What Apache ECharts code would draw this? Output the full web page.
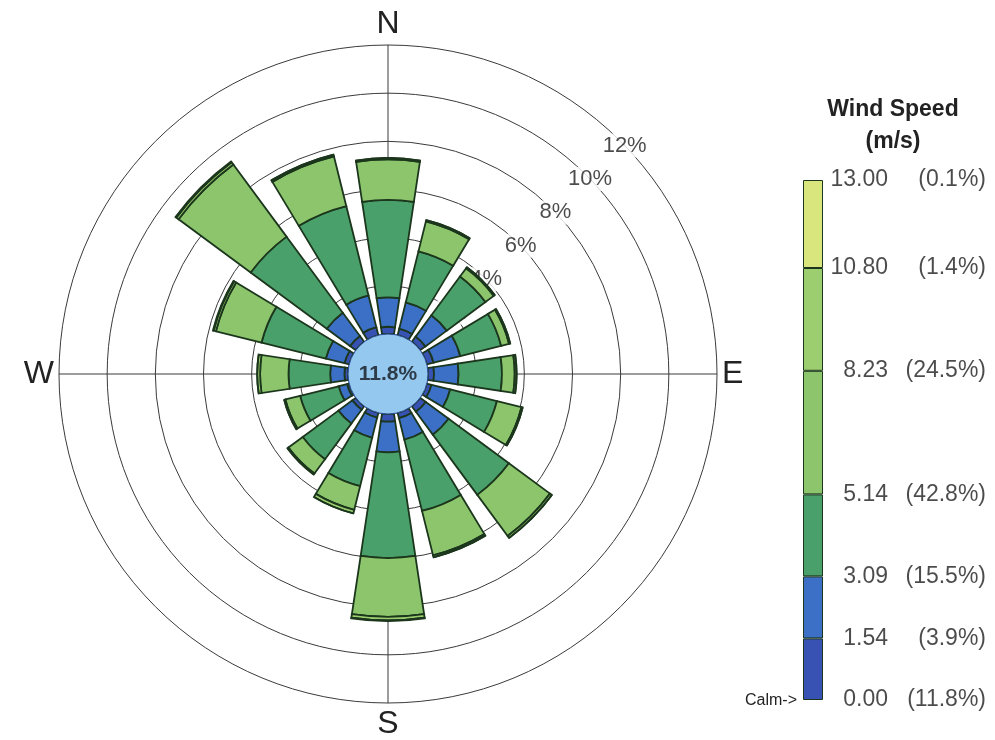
<!DOCTYPE html>
<html>
<head>
<meta charset="utf-8">
<title>Wind Rose</title>
<script src="https://cdn.jsdelivr.net/npm/echarts@6/dist/echarts.min.js"></script>
<style>
  html, body { margin: 0; padding: 0; background: #fff; }
  #chart { width: 995px; height: 740px; }
</style>
</head>
<body>
<div id="chart"></div>
<script>
// 16 wind directions, clockwise from north
const directions = ['N', 'NNE', 'NE', 'ENE', 'E', 'ESE', 'SE', 'SSE', 'S', 'SSW', 'SW', 'WSW', 'W', 'WNW', 'NW', 'NNW'];

// frequency (%) of each speed class per direction
const speed0to154   = [0.30, 0.28, 0.27, 0.29, 0.25, 0.20, 0.29, 0.23, 0.32, 0.21, 0.18, 0.09, 0.15, 0.20, 0.30, 0.34];
const speed154to309 = [1.22, 1.12, 1.10, 1.14, 1.02, 0.80, 1.18, 0.92, 1.27, 0.86, 0.72, 0.36, 0.59, 0.80, 1.20, 1.36];
const speed309to514 = [4.05, 2.19, 2.00, 1.75, 1.80, 2.00, 3.11, 3.05, 4.39, 2.07, 1.84, 1.65, 1.73, 2.75, 3.93, 3.82];
const speed514to823 = [1.68, 1.28, 0.43, 0.34, 0.53, 1.05, 2.12, 1.90, 2.44, 1.01, 0.74, 0.63, 1.18, 1.95, 3.72, 2.13];
const speed823to1080 = [0.05, 0.05, 0.05, 0.05, 0.08, 0.05, 0.10, 0.08, 0.15, 0.15, 0.05, 0.05, 0.12, 0.10, 0.12, 0.08];
const speed1080to1300 = [0, 0, 0, 0, 0, 0, 0, 0, 0.03, 0, 0, 0, 0, 0.03, 0.04, 0];

const calmPct = 11.8;

// legend class limits (m/s) and share of each class
const speedBounds = [0.00, 1.54, 3.09, 5.14, 8.23, 10.80, 13.00];
const boundShares = ['11.8%', '3.9%', '15.5%', '42.8%', '24.5%', '1.4%', '0.1%'];

const ringTicks = [2, 4, 6, 8, 10, 12];
const compassAngles = [0, 90, 180, 270];
const compassNames = ['N', 'E', 'S', 'W'];

const binColors = ['#3852b3', '#3b70c6', '#4aa06a', '#8cc56c', '#9ccd6e', '#d9e67d'];
const roseData = [speed0to154, speed154to309, speed309to514, speed514to823, speed823to1080, speed1080to1300];

const center = [388, 374];
const edge = '#1b361c';
const font = "'Liberation Sans', Arial, sans-serif";

const chart = echarts.init(document.getElementById('chart'));

const roseSeries = roseData.map((arr, i) => ({
  type: 'bar',
  coordinateSystem: 'polar',
  polarIndex: 0,
  stack: 'rose',
  barCategoryGap: '24%',
  data: arr,
  z: 3,
  silent: true,
  itemStyle: {color: binColors[i], borderColor: edge, borderWidth: 1.8}
}));

const legendSeries = roseData.map((arr, i) => ({
  type: 'bar',
  xAxisIndex: 0,
  yAxisIndex: 0,
  stack: 'legend',
  barWidth: '100%',
  data: [+(speedBounds[i + 1] - speedBounds[i]).toFixed(2)],
  silent: true,
  itemStyle: {color: binColors[i], borderColor: edge, borderWidth: 1}
}));

chart.setOption({
  animation: false,
  title: {
    text: 'Wind Speed\n(m/s)',
    left: 888,
    top: 89,
    textAlign: 'center',
    textStyle: {fontFamily: font, fontSize: 23, fontWeight: 'bold', color: '#222', lineHeight: 32}
  },
  polar: [
    {center: center, radius: [40, 329]},
    {center: center, radius: [40, 329]}
  ],
  angleAxis: [
    {
      polarIndex: 0,
      type: 'category',
      data: directions,
      startAngle: 101.25,
      boundaryGap: true,
      axisLine: {show: false},
      axisTick: {show: false},
      axisLabel: {show: false},
      splitLine: {show: false}
    },
    {
      polarIndex: 1,
      type: 'value',
      min: 0,
      max: 360,
      interval: 90,
      startAngle: 90,
      axisLine: {show: false},
      axisTick: {show: false},
      axisLabel: {
        margin: 5,
        fontFamily: "'Liberation Sans Narrow', 'Liberation Sans', sans-serif",
        fontSize: 32,
        color: '#222',
        formatter: v => {
          const k = compassAngles.indexOf(v);
          return k >= 0 ? compassNames[k] : '';
        }
      },
      splitLine: {show: true, lineStyle: {color: '#3a3a3a', width: 1}}
    }
  ],
  radiusAxis: [
    {
      polarIndex: 0,
      type: 'value',
      min: 0,
      max: 12,
      interval: 2,
      axisLine: {show: false},
      axisTick: {show: false},
      axisLabel: {show: false},
      splitLine: {show: true, lineStyle: {color: '#3a3a3a', width: 1}}
    },
    {
      polarIndex: 1,
      type: 'value',
      min: 0,
      max: 12,
      interval: 2,
      axisLine: {show: false},
      axisTick: {show: false},
      axisLabel: {show: false},
      splitLine: {show: false}
    }
  ],
  grid: {left: 803, top: 180, width: 20, height: 520},
  xAxis: {type: 'category', data: [''], show: false},
  yAxis: {type: 'value', min: 0, max: 13, show: false},
  graphic: [{
    type: 'text',
    x: 797,
    y: 701,
    style: {text: 'Calm->', font: '16px ' + font, fill: '#222', textAlign: 'right', textVerticalAlign: 'middle'}
  }],
  series: [
    {
      type: 'scatter',
      coordinateSystem: 'polar',
      polarIndex: 1,
      data: ringTicks.map(t => [t, 46]),
      symbolSize: 0,
      z: 1,
      silent: true,
      label: {
        show: true,
        position: 'inside',
        formatter: p => p.value[0] + '%',
        fontFamily: font,
        fontSize: 22,
        color: '#1e1e1e',
        backgroundColor: '#fff',
        padding: [1, 2]
      }
    },
    ...roseSeries,
    {
      type: 'pie',
      center: center,
      radius: [0, 40],
      z: 6,
      silent: true,
      data: [{name: 'Calm', value: calmPct}],
      itemStyle: {color: '#94c8ee', borderColor: '#2e4f9a', borderWidth: 1},
      label: {
        show: true,
        position: 'center',
        formatter: calmPct.toFixed(1) + '%',
        fontFamily: font,
        fontSize: 21,
        fontWeight: 'bold',
        color: '#2d3a48'
      },
      labelLine: {show: false}
    },
    ...legendSeries,
    {
      type: 'scatter',
      xAxisIndex: 0,
      yAxisIndex: 0,
      data: speedBounds.map(b => [0, b]),
      symbolSize: 0,
      silent: true,
      z: 5,
      label: {
        show: true,
        position: 'right',
        distance: 5,
        formatter: p => '{v|' + speedBounds[p.dataIndex].toFixed(2) + '}{p|(' + boundShares[p.dataIndex] + ')}',
        rich: {
          v: {fontFamily: font, fontSize: 23, color: '#1e1e1e', width: 70, align: 'right'},
          p: {fontFamily: font, fontSize: 23, color: '#1e1e1e', width: 98, align: 'right'}
        }
      }
    }
  ]
});
</script>
</body>
</html>
